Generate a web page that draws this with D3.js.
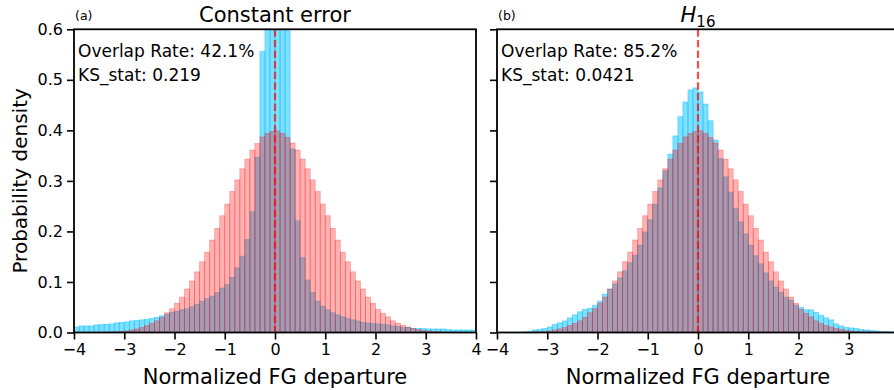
<!DOCTYPE html>
<html>
<head>
<meta charset="utf-8">
<script src="https://cdn.jsdelivr.net/npm/d3@7/dist/d3.min.js"></script>
<style>
  body { margin: 0; background: #fff; }
  text { font-family: "DejaVu Sans", sans-serif; fill: #000; }
</style>
</head>
<body>
<div id="chart-area"></div>
<script>

// histogram data, bins of 0.1 from -4 to 4 (80 bins)
let binStart = -4, binWidth = 0.1;

// reference (red) density, same in both panels
let refDensity = [
  0, 0, 0, 0, 0.0002, 0.0003, 0.0005, 0.001, 0.0015, 0.002,
  0.003, 0.005, 0.007, 0.010, 0.014, 0.018, 0.023, 0.030, 0.039, 0.047,
  0.058, 0.070, 0.086, 0.102, 0.120, 0.140, 0.159, 0.183, 0.206, 0.231,
  0.254, 0.279, 0.302, 0.324, 0.343, 0.361, 0.374, 0.387, 0.394, 0.398,
  0.399, 0.394, 0.386, 0.375, 0.361, 0.343, 0.324, 0.302, 0.279, 0.254,
  0.231, 0.206, 0.183, 0.159, 0.140, 0.120, 0.102, 0.086, 0.070, 0.058,
  0.046, 0.038, 0.031, 0.023, 0.018, 0.014, 0.011, 0.008, 0.006, 0.004,
  0.003, 0.002, 0.0015, 0.001, 0.0007, 0.0005, 0.0003, 0.0002, 0.0001, 0
];

// constant error (blue), centre bins go off the top
let constDensity = [
  0.011, 0.013, 0.013, 0.013, 0.015, 0.016, 0.016, 0.017, 0.019, 0.020,
  0.021, 0.023, 0.024, 0.025, 0.026, 0.028, 0.030, 0.033, 0.036, 0.040,
  0.042, 0.045, 0.047, 0.051, 0.056, 0.062, 0.067, 0.072, 0.079, 0.088,
  0.095, 0.109, 0.128, 0.151, 0.184, 0.239, 0.347, 0.556, 1.00, 1.25,
  1.25, 1.05, 0.75, 0.363, 0.221, 0.148, 0.104, 0.079, 0.062, 0.052,
  0.045, 0.039, 0.035, 0.031, 0.028, 0.025, 0.023, 0.020, 0.019, 0.018,
  0.017, 0.016, 0.015, 0.013, 0.012, 0.010, 0.010, 0.008, 0.008, 0.008,
  0.007, 0.007, 0.007, 0.007, 0.006, 0.005, 0.005, 0.005, 0.005, 0.005
];

// H16 (blue)
let h16Density = [
  0, 0, 0, 0.0003, 0.0006, 0.001, 0.002, 0.005, 0.006, 0.008,
  0.011, 0.016, 0.019, 0.023, 0.029, 0.035, 0.041, 0.046, 0.048, 0.054,
  0.062, 0.076, 0.086, 0.096, 0.108, 0.122, 0.138, 0.153, 0.173, 0.199,
  0.223, 0.254, 0.286, 0.320, 0.353, 0.389, 0.427, 0.456, 0.480, 0.484,
  0.476, 0.452, 0.419, 0.381, 0.344, 0.308, 0.278, 0.246, 0.219, 0.195,
  0.173, 0.152, 0.136, 0.118, 0.102, 0.090, 0.080, 0.070, 0.064, 0.054,
  0.050, 0.045, 0.045, 0.040, 0.034, 0.029, 0.025, 0.017, 0.013, 0.010,
  0.009, 0.008, 0.006, 0.005, 0.004, 0.003, 0.002, 0.002, 0.001, 0.001
];

let xTicksA = [-4, -3, -2, -1, 0, 1, 2, 3, 4];
let xTicksB = [-4, -3, -2, -1, 0, 1, 2, 3];   // right panel runs past the page edge
let yTicks = [0.0, 0.1, 0.2, 0.3, 0.4, 0.5, 0.6];

let panels = [
  {tag: "(a)", title: "Constant error", blue: constDensity, overlap: "Overlap Rate: 42.1%", ks: "KS_stat: 0.219", left: 74, xTicks: xTicksA, yLabels: true},
  {tag: "(b)", title: "H16", blue: h16Density, overlap: "Overlap Rate: 85.2%", ks: "KS_stat: 0.0421", left: 497, xTicks: xTicksB, yLabels: false}
];

// SVG drawing area
let W = 894, H = 390;
let plotW = 402, plotTop = 29.3, plotBottom = 332.5;

let svg = d3.select("#chart-area").append("svg")
    .attr("width", W)
    .attr("height", H);

let y = d3.scaleLinear().domain([0, 0.6]).range([plotBottom, plotTop]);

let minus = d => d < 0 ? "\u2212" + Math.abs(d) : "" + d;

panels.forEach(function(p, k) {

  let x = d3.scaleLinear().domain([-4, 4]).range([p.left, p.left + plotW]);
  let g = svg.append("g");

  g.append("clipPath").attr("id", "clip" + k)
    .append("rect")
      .attr("x", p.left).attr("y", plotTop)
      .attr("width", plotW).attr("height", plotBottom - plotTop);

  let bars = g.append("g").attr("clip-path", "url(#clip" + k + ")");

  // blue first, red drawn over it
  let series = [
    {vals: p.blue, color: "#00bfff", op: 0.5},
    {vals: refDensity, color: "#ff0000", op: 0.3}
  ];
  series.forEach(function(s) {
    bars.append("g").selectAll("rect")
      .data(s.vals.map((v, i) => ({v: v, i: i})).filter(d => d.v > 0))
      .enter()
      .append("rect")
        .attr("x", d => x(binStart + d.i * binWidth))
        .attr("width", d => x(binStart + (d.i + 1) * binWidth) - x(binStart + d.i * binWidth))
        .attr("y", d => y(Math.min(d.v, 0.7)))
        .attr("height", d => y(0) - y(Math.min(d.v, 0.7)))
        .attr("fill", s.color)
        .attr("fill-opacity", s.op)
        .attr("stroke", s.color)
        .attr("stroke-opacity", s.op)
        .attr("stroke-width", 0.8);
  });

  // dashed zero line
  bars.append("line")
    .attr("x1", x(0)).attr("x2", x(0))
    .attr("y1", plotTop).attr("y2", plotBottom)
    .attr("stroke", "#ff0000")
    .attr("stroke-opacity", 0.7)
    .attr("stroke-width", 2.2)
    .attr("stroke-dasharray", "7.4,3.2");

  // axes
  let xAxis = g.append("g")
    .attr("transform", "translate(0," + plotBottom + ")")
    .call(d3.axisBottom(x).tickValues(p.xTicks).tickSize(7).tickPadding(4).tickFormat(minus));
  let yAxis = g.append("g")
    .attr("transform", "translate(" + p.left + ",0)")
    .call(d3.axisLeft(y).tickValues(yTicks).tickSize(7).tickPadding(4)
      .tickFormat(p.yLabels ? d3.format(".1f") : ""));

  [xAxis, yAxis].forEach(function(a) {
    a.select(".domain").remove();
    a.selectAll(".tick line").attr("stroke", "#000").attr("stroke-width", 1.6);
    a.selectAll(".tick text").style("font-size", "16px").attr("fill", "#000");
  });

  // frame
  g.append("rect")
    .attr("x", p.left).attr("y", plotTop)
    .attr("width", plotW).attr("height", plotBottom - plotTop)
    .attr("fill", "none")
    .attr("stroke", "#000")
    .attr("stroke-width", 1.8);

  // panel tag and title
  g.append("text")
    .attr("x", p.left + 1).attr("y", 20)
    .style("font-size", "12.5px")
    .text(p.tag);

  let cx = p.left + plotW / 2;
  if (p.title === "H16") {
    let t = g.append("text")
      .attr("x", cx).attr("y", 22)
      .attr("text-anchor", "middle")
      .style("font-size", "21px");
    t.append("tspan").style("font-style", "italic").text("H");
    t.append("tspan").attr("dy", 5).style("font-size", "15px").text("16");
  } else {
    g.append("text")
      .attr("x", cx).attr("y", 22)
      .attr("text-anchor", "middle")
      .style("font-size", "21px")
      .text(p.title);
  }

  // stats
  g.append("text")
    .attr("x", p.left + 4).attr("y", 57)
    .style("font-size", "17px")
    .text(p.overlap);
  g.append("text")
    .attr("x", p.left + 4).attr("y", 81)
    .style("font-size", "17px")
    .text(p.ks);

  // x label
  g.append("text")
    .attr("x", cx).attr("y", 384)
    .attr("text-anchor", "middle")
    .style("font-size", "21px")
    .text("Normalized FG departure");
});

// y label
svg.append("text")
  .attr("transform", "translate(27," + ((plotTop + plotBottom) / 2) + ") rotate(-90)")
  .attr("text-anchor", "middle")
  .style("font-size", "20px")
  .text("Probability density");

</script>
</body>
</html>
